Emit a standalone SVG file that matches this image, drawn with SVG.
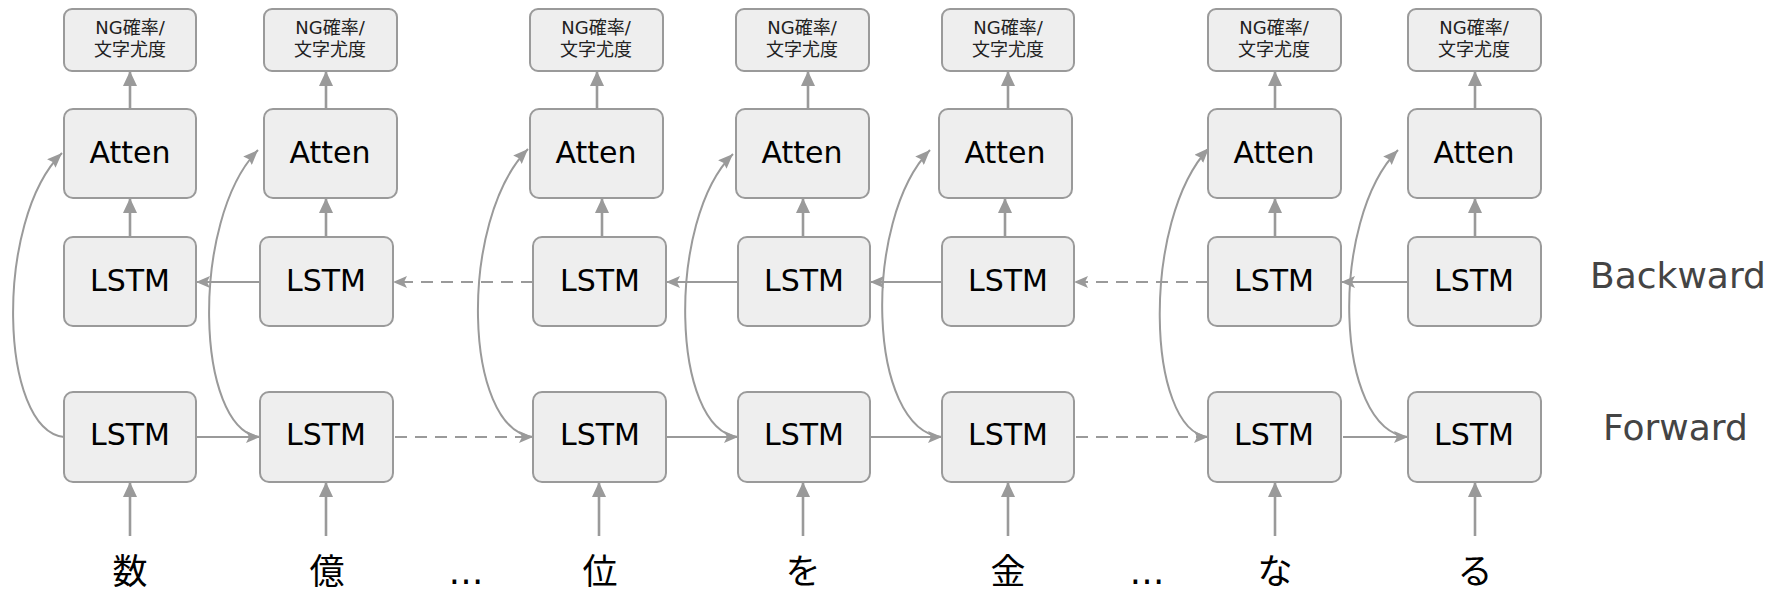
<svg xmlns="http://www.w3.org/2000/svg" width="1767" height="593" viewBox="0 0 1767 593">
<style>
.box{fill:#eeeeee;stroke:#9a9a9a;stroke-width:2}
.big{font-family:"DejaVu Sans",Verdana,sans-serif;font-size:30px;fill:#000;text-anchor:middle}
.ng{font-family:"DejaVu Sans","Noto Sans CJK JP",sans-serif;font-size:18px;fill:#222;text-anchor:middle}
.in{font-family:"Noto Sans CJK JP",sans-serif;font-size:35px;fill:#000;text-anchor:middle}
.dots{font-family:"DejaVu Sans",sans-serif;font-size:35px;fill:#000;text-anchor:middle}
.lab{font-family:"DejaVu Sans",Verdana,sans-serif;font-size:36px;fill:#444;text-anchor:start}
.v{stroke:#9a9a9a;stroke-width:2.6;fill:none;marker-end:url(#mv)}
.h{stroke:#9a9a9a;stroke-width:2;fill:none;marker-end:url(#mh)}
.d{stroke:#9a9a9a;stroke-width:2;fill:none;stroke-dasharray:12 8;marker-end:url(#mh)}
.c{stroke:#9a9a9a;stroke-width:2;fill:none;marker-end:url(#mc)}
</style>
<defs>
<marker id="mv" markerUnits="userSpaceOnUse" viewBox="0 0 15 14" markerWidth="15" markerHeight="14" refX="15" refY="7" orient="auto"><path d="M0,0 L15,7 L0,14 z" fill="#9a9a9a"/></marker>
<marker id="mh" markerUnits="userSpaceOnUse" viewBox="0 0 14 12" markerWidth="14" markerHeight="12" refX="14" refY="6" orient="auto"><path d="M0,0 L14,6 L0,12 L3,6 z" fill="#9a9a9a"/></marker>
<marker id="mc" markerUnits="userSpaceOnUse" viewBox="0 0 15 12" markerWidth="15" markerHeight="12" refX="15" refY="6" orient="auto"><path d="M0,0 L15,6 L0,12 L2,6 z" fill="#9a9a9a"/></marker>
</defs>

<g id="connectors">
<path class="v" d="M130,536 V482"/>
<path class="v" d="M326,536 V482"/>
<path class="v" d="M599,536 V482"/>
<path class="v" d="M803,536 V482"/>
<path class="v" d="M1008,536 V482"/>
<path class="v" d="M1275,536 V482"/>
<path class="v" d="M1475,536 V482"/>
<path class="v" d="M130,237 V198"/>
<path class="v" d="M326,237 V198"/>
<path class="v" d="M602,237 V198"/>
<path class="v" d="M803,237 V198"/>
<path class="v" d="M1005,237 V198"/>
<path class="v" d="M1275,237 V198"/>
<path class="v" d="M1475,237 V198"/>
<path class="v" d="M130,109 V71"/>
<path class="v" d="M326,109 V71"/>
<path class="v" d="M597,109 V71"/>
<path class="v" d="M808,109 V71"/>
<path class="v" d="M1008,109 V71"/>
<path class="v" d="M1275,109 V71"/>
<path class="v" d="M1475,109 V71"/>
<path class="h" d="M196,437 H260"/>
<path class="d" d="M395,437 H533"/>
<path class="h" d="M666,437 H738"/>
<path class="h" d="M870,437 H942"/>
<path class="d" d="M1076,437 H1208"/>
<path class="h" d="M1343,437 H1408"/>
<path class="h" d="M260,282 H196"/>
<path class="d" d="M533,282 H393"/>
<path class="h" d="M738,282 H666"/>
<path class="h" d="M942,282 H870"/>
<path class="d" d="M1208,282 H1074"/>
<path class="h" d="M1408,282 H1341"/>
<path class="c" d="M64,437 C-1,430 -6,220 62,153"/>
<path class="c" d="M260,437 C195,430 190,220 258,150"/>
<path class="c" d="M533,437 C463,430 458,220 528,149"/>
<path class="c" d="M738,437 C671,430 666,220 733,154"/>
<path class="c" d="M942,437 C867,430 862,220 930,150"/>
<path class="c" d="M1208,437 C1146,430 1141,220 1209,148"/>
<path class="c" d="M1408,437 C1334,430 1329,220 1398,150"/>
</g>

<g id="col1">
<g id="ng1"><rect class="box" x="64" y="9" width="132" height="62" rx="8"/><text class="ng" x="130" y="34">NG確率/</text><text class="ng" x="130" y="56">文字尤度</text></g>
<g id="atten1"><rect class="box" x="64" y="109" width="132" height="89" rx="9"/><text class="big" x="130" y="163">Atten</text></g>
<g id="bwd1"><rect class="box" x="64" y="237" width="132" height="89" rx="9"/><text class="big" x="130" y="291">LSTM</text></g>
<g id="fwd1"><rect class="box" x="64" y="392" width="132" height="90" rx="9"/><text class="big" x="130" y="445">LSTM</text></g>
<text id="in1" class="in" x="130" y="584">数</text>
</g>

<g id="col2">
<g id="ng2"><rect class="box" x="264" y="9" width="133" height="62" rx="8"/><text class="ng" x="330" y="34">NG確率/</text><text class="ng" x="330" y="56">文字尤度</text></g>
<g id="atten2"><rect class="box" x="264" y="109" width="133" height="89" rx="9"/><text class="big" x="330" y="163">Atten</text></g>
<g id="bwd2"><rect class="box" x="260" y="237" width="133" height="89" rx="9"/><text class="big" x="326" y="291">LSTM</text></g>
<g id="fwd2"><rect class="box" x="260" y="392" width="133" height="90" rx="9"/><text class="big" x="326" y="445">LSTM</text></g>
<text id="in2" class="in" x="327" y="584">億</text>
</g>

<text id="dots1" class="dots" x="466" y="584">…</text>

<g id="col3">
<g id="ng3"><rect class="box" x="530" y="9" width="133" height="62" rx="8"/><text class="ng" x="596" y="34">NG確率/</text><text class="ng" x="596" y="56">文字尤度</text></g>
<g id="atten3"><rect class="box" x="530" y="109" width="133" height="89" rx="9"/><text class="big" x="596" y="163">Atten</text></g>
<g id="bwd3"><rect class="box" x="533" y="237" width="133" height="89" rx="9"/><text class="big" x="600" y="291">LSTM</text></g>
<g id="fwd3"><rect class="box" x="533" y="392" width="133" height="90" rx="9"/><text class="big" x="600" y="445">LSTM</text></g>
<text id="in3" class="in" x="600" y="584">位</text>
</g>

<g id="col4">
<g id="ng4"><rect class="box" x="736" y="9" width="133" height="62" rx="8"/><text class="ng" x="802" y="34">NG確率/</text><text class="ng" x="802" y="56">文字尤度</text></g>
<g id="atten4"><rect class="box" x="736" y="109" width="133" height="89" rx="9"/><text class="big" x="802" y="163">Atten</text></g>
<g id="bwd4"><rect class="box" x="738" y="237" width="132" height="89" rx="9"/><text class="big" x="804" y="291">LSTM</text></g>
<g id="fwd4"><rect class="box" x="738" y="392" width="132" height="90" rx="9"/><text class="big" x="804" y="445">LSTM</text></g>
<text id="in4" class="in" x="803" y="584">を</text>
</g>

<g id="col5">
<g id="ng5"><rect class="box" x="942" y="9" width="132" height="62" rx="8"/><text class="ng" x="1008" y="34">NG確率/</text><text class="ng" x="1008" y="56">文字尤度</text></g>
<g id="atten5"><rect class="box" x="939" y="109" width="133" height="89" rx="9"/><text class="big" x="1005" y="163">Atten</text></g>
<g id="bwd5"><rect class="box" x="942" y="237" width="132" height="89" rx="9"/><text class="big" x="1008" y="291">LSTM</text></g>
<g id="fwd5"><rect class="box" x="942" y="392" width="132" height="90" rx="9"/><text class="big" x="1008" y="445">LSTM</text></g>
<text id="in5" class="in" x="1008" y="584">金</text>
</g>

<text id="dots2" class="dots" x="1147" y="584">…</text>

<g id="col6">
<g id="ng6"><rect class="box" x="1208" y="9" width="133" height="62" rx="8"/><text class="ng" x="1274" y="34">NG確率/</text><text class="ng" x="1274" y="56">文字尤度</text></g>
<g id="atten6"><rect class="box" x="1208" y="109" width="133" height="89" rx="9"/><text class="big" x="1274" y="163">Atten</text></g>
<g id="bwd6"><rect class="box" x="1208" y="237" width="133" height="89" rx="9"/><text class="big" x="1274" y="291">LSTM</text></g>
<g id="fwd6"><rect class="box" x="1208" y="392" width="133" height="90" rx="9"/><text class="big" x="1274" y="445">LSTM</text></g>
<text id="in6" class="in" x="1275" y="584">な</text>
</g>

<g id="col7">
<g id="ng7"><rect class="box" x="1408" y="9" width="133" height="62" rx="8"/><text class="ng" x="1474" y="34">NG確率/</text><text class="ng" x="1474" y="56">文字尤度</text></g>
<g id="atten7"><rect class="box" x="1408" y="109" width="133" height="89" rx="9"/><text class="big" x="1474" y="163">Atten</text></g>
<g id="bwd7"><rect class="box" x="1408" y="237" width="133" height="89" rx="9"/><text class="big" x="1474" y="291">LSTM</text></g>
<g id="fwd7"><rect class="box" x="1408" y="392" width="133" height="90" rx="9"/><text class="big" x="1474" y="445">LSTM</text></g>
<text id="in7" class="in" x="1475" y="584">る</text>
</g>

<text id="label-backward" class="lab" x="1590" y="288">Backward</text>
<text id="label-forward" class="lab" x="1603" y="440">Forward</text>
</svg>
